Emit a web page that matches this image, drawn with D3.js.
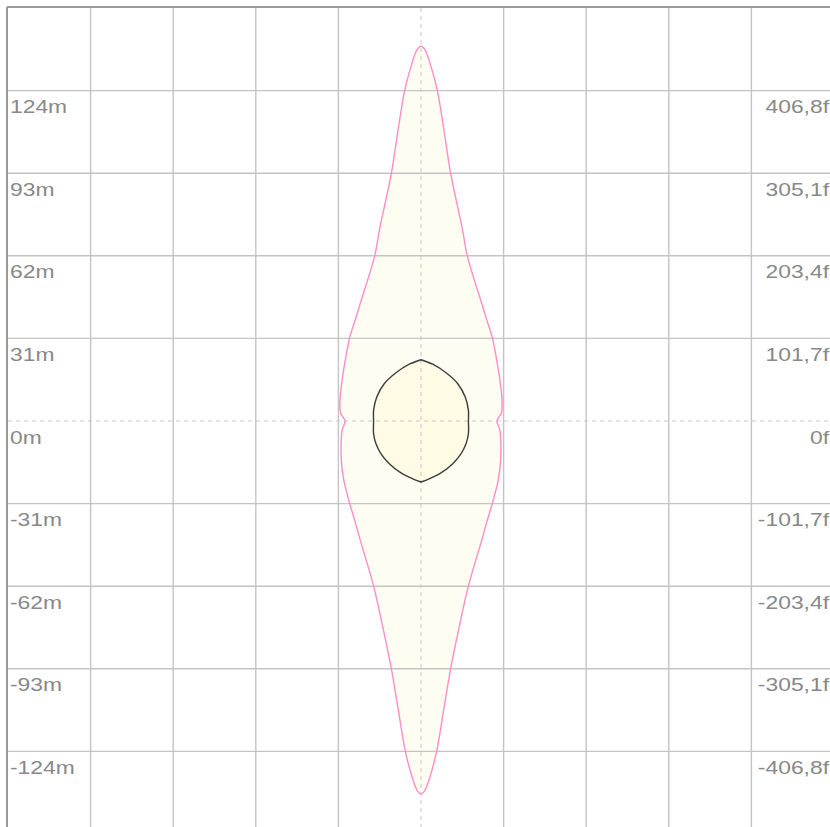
<!DOCTYPE html>
<html>
<head>
<meta charset="utf-8">
<script src="https://cdn.jsdelivr.net/npm/d3@7"></script>
<style>
  body { margin: 0; background: #fff; overflow: hidden; }
  text { font-family: "Liberation Sans", Arial, sans-serif; font-size: 18px; fill: #888; }
</style>
</head>
<body>
<div id="chart"></div>
<script>
// DATA
////////////////////////////
// grid ticks (metres) and matching feet labels
var ticksM = [124, 93, 62, 31, 0, -31, -62, -93, -124];
var ticksF = ["406,8f", "305,1f", "203,4f", "101,7f", "0f", "-101,7f", "-203,4f", "-305,1f", "-406,8f"];

// outer (pink) contour - right half, top to bottom: y (m) and half width (m)
var outerY = [140.7, 139.9, 138.1, 134.2, 124.2, 108.6, 93.1, 71.7, 61.9, 45.4, 37.9, 31.2, 22.9, 15.4, 7.9, 3.0, 0,
              -3.4, -14.6, -22.1, -30.8, -37.2, -44.7, -61.9, -74.7, -93.1, -108.5, -123.9, -133.8, -137.5, -139.2, -140.0];
var outerW = [0, 1.1, 2.1, 3.4, 6.1, 8.7, 11.1, 15.6, 17.4, 22.4, 24.7, 26.8, 28.4, 29.6, 30.4, 30.2, 28.5,
              29.6, 29.9, 29.0, 26.8, 24.9, 22.8, 17.8, 14.9, 11.1, 8.5, 5.9, 3.3, 2.0, 1.1, 0];

// inner (dark) contour - right half, top to bottom
var innerY = [23.0, 21.3, 18.1, 14.0, 9.0, 4.0, 0, -4.8, -8.5, -12.3, -16.0, -19.5, -21.7, -22.9];
var innerW = [0, 4.4, 9.4, 13.8, 16.6, 17.8, 17.8, 17.8, 16.9, 15.0, 11.9, 7.5, 3.1, 0];

// SETUP
////////////////////////////
var width = 830,
    height = 827;
var padL = 8, padT = 8, size = 826;   // square plot, cut off at window edge

var x = d3.scaleLinear().domain([-155, 155]).range([padL, padL + size]);
var y = d3.scaleLinear().domain([155, -155]).range([padT, padT + size]);

var svg = d3.select("#chart").append("svg")
    .attr("width", width)
    .attr("height", height);

var gridVals = d3.range(-155, 156, 31);

// build outline points from a right-half profile (mirror for left)
function halves(ys, ws) {
  var right = ys.map(function(v, i) { return [x(ws[i]), y(v)]; });
  var leftSide = ys.map(function(v, i) { return [x(-ws[i]), y(v)]; }).reverse();
  return { right: right, left: leftSide };
}

var outer = halves(outerY, outerW);
// drop duplicated tips for closed curve
var outerPts = outer.right.concat(outer.left.slice(1, -1));
var outerPath = d3.line().curve(d3.curveCatmullRomClosed.alpha(0.5))(outerPts);

// inner one has pointed top/bottom -> two open halves
var inner = halves(innerY, innerW);
var lineCR = d3.line().curve(d3.curveCatmullRom.alpha(0.5));
var innerPath = lineCR(inner.right) + lineCR(inner.left).replace(/^M/, "L") + "Z";

// fills first
svg.append("path").attr("d", outerPath).attr("fill", "#fefdf2").attr("stroke", "none");
svg.append("path").attr("d", innerPath).attr("fill", "#fffbe4").attr("stroke", "none");

// grid lines
svg.append("g").selectAll("line")
  .data(gridVals.filter(function(d) { return d !== 0 && d !== -155; }))
  .enter().append("line")
    .attr("x1", function(d) { return x(d); })
    .attr("x2", function(d) { return x(d); })
    .attr("y1", padT).attr("y2", padT + size)
    .attr("stroke", "#c4c4c4").attr("stroke-width", 1.4);

svg.append("g").selectAll("line")
  .data(gridVals.filter(function(d) { return d !== 0 && d !== 155; }))
  .enter().append("line")
    .attr("y1", function(d) { return y(d); })
    .attr("y2", function(d) { return y(d); })
    .attr("x1", padL).attr("x2", padL + size)
    .attr("stroke", "#c4c4c4").attr("stroke-width", 1.4);

// dashed centre axes
svg.append("line")
  .attr("x1", x(0)).attr("x2", x(0)).attr("y1", padT).attr("y2", padT + size)
  .attr("stroke", "#c8c8c8").attr("stroke-width", 1).attr("stroke-dasharray", "4,4");
svg.append("line")
  .attr("y1", y(0)).attr("y2", y(0)).attr("x1", padL).attr("x2", padL + size)
  .attr("stroke", "#c8c8c8").attr("stroke-width", 1).attr("stroke-dasharray", "4,4");

// border top & left
svg.append("line").attr("x1", padL - 1).attr("x2", padL + size).attr("y1", padT - 1).attr("y2", padT - 1)
  .attr("stroke", "#9a9a9a").attr("stroke-width", 2);
svg.append("line").attr("x1", padL - 1).attr("x2", padL - 1).attr("y1", padT - 1).attr("y2", padT + size)
  .attr("stroke", "#9a9a9a").attr("stroke-width", 2);

// outlines
svg.append("path").attr("d", outerPath).attr("fill", "none")
  .attr("stroke", "#ff8cc8").attr("stroke-width", 1.4);
svg.append("path").attr("d", innerPath).attr("fill", "none")
  .attr("stroke", "#3c3c3c").attr("stroke-width", 1.4);

// labels (text is drawn a bit wide in the original)
var stretch = 1.27;
svg.append("g").selectAll("text")
  .data(ticksM)
  .enter().append("text")
    .attr("transform", function(d) { return "translate(" + (padL + 2) + "," + (y(d) + 22.5) + ") scale(" + stretch + ",1)"; })
    .text(function(d) { return d + "m"; });

svg.append("g").selectAll("text")
  .data(ticksM)
  .enter().append("text")
    .attr("transform", function(d) { return "translate(" + (width - 1) + "," + (y(d) + 22.5) + ") scale(" + stretch + ",1)"; })
    .attr("text-anchor", "end")
    .text(function(d, i) { return ticksF[i]; });
</script>
</body>
</html>
